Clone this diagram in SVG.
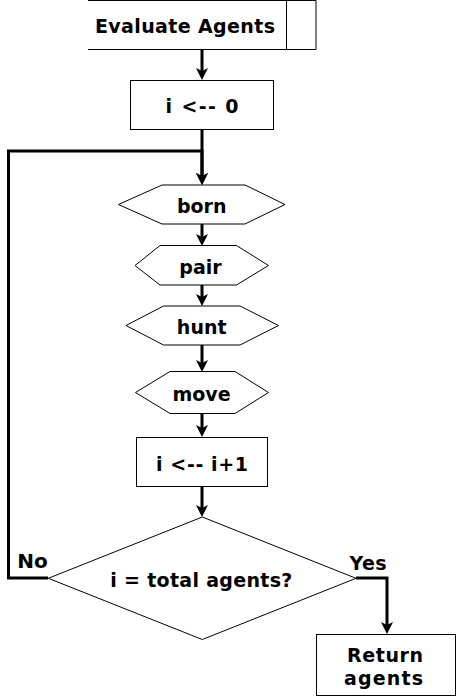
<svg xmlns="http://www.w3.org/2000/svg" width="457" height="697" viewBox="0 0 457 697">
<style>
.shape{fill:#ffffff;stroke:#000000;stroke-width:1}
.edge{fill:none;stroke:#000000;stroke-width:3}
.lbl{font-family:"DejaVu Sans","Verdana",sans-serif;font-weight:bold;font-size:19px;fill:#000000;text-anchor:middle}
</style>
<defs>
<marker id="arr" viewBox="0 0 12 12" refX="4" refY="6" markerWidth="12" markerHeight="12" markerUnits="userSpaceOnUse" orient="auto">
<path d="M0,0 L12,6 L0,12 L3,6 Z" fill="#000000"/>
</marker>
</defs>
<rect width="457" height="697" fill="#ffffff"/>
<g id="connectors">
<path class="edge" d="M202,49 V72" marker-end="url(#arr)"/>
<path class="edge" d="M202,129 V177" marker-end="url(#arr)"/>
<path class="edge" d="M202,224 V238" marker-end="url(#arr)"/>
<path class="edge" d="M202,285 V298" marker-end="url(#arr)"/>
<path class="edge" d="M202,345 V364" marker-end="url(#arr)"/>
<path class="edge" d="M202,413 V429" marker-end="url(#arr)"/>
<path class="edge" d="M202,487 V509" marker-end="url(#arr)"/>
<path class="edge" d="M48,578 H8.5 V151 H202 V177" marker-end="url(#arr)"/>
<path class="edge" d="M356,578 H387 V626" marker-end="url(#arr)"/>
<text class="lbl" x="32.5" y="567.5" style="font-size:20px">No</text>
<text class="lbl" x="368" y="570" textLength="37">Yes</text>
</g>
<g id="evaluate-agents">
<path class="shape" d="M88,0.5 H316 V49.5 H88 M286.5,0.5 V49.5" style="fill:#ffffff"/>
<text class="lbl" x="185" y="33" textLength="180">Evaluate Agents</text>
</g>
<g id="init">
<rect class="shape" x="130.5" y="80.5" width="143" height="49"/>
<text class="lbl" x="202" y="112.5" textLength="73">i &lt;-- 0</text>
</g>
<g id="born">
<polygon class="shape" points="118.5,204.5 162,185 245,185 285,204.5 245,224 162,224"/>
<text class="lbl" x="201.7" y="212.5">born</text>
</g>
<g id="pair">
<polygon class="shape" points="135,265.5 160,245.5 236.5,245.5 268.5,265.5 236.5,285 160,285"/>
<text class="lbl" x="200.5" y="273.5">pair</text>
</g>
<g id="hunt">
<polygon class="shape" points="126,325.5 163.5,306 240,306 278.5,325.5 240,345 163.5,345"/>
<text class="lbl" x="201.7" y="334.3">hunt</text>
</g>
<g id="move">
<polygon class="shape" points="135.5,392.5 170,371.5 235,371.5 268.5,392.5 235,413.5 170,413.5"/>
<text class="lbl" x="201.5" y="400.7">move</text>
</g>
<g id="increment">
<rect class="shape" x="136.5" y="437.5" width="131" height="49"/>
<text class="lbl" x="202" y="470.7" textLength="92">i &lt;-- i+1</text>
</g>
<g id="decision">
<polygon class="shape" points="202.3,517 356,578.3 202.3,639.5 48.3,578.3"/>
<text class="lbl" x="201.3" y="586.7" textLength="182">i = total agents?</text>
</g>
<g id="return-agents">
<rect class="shape" x="316.5" y="634.5" width="139" height="61"/>
<text class="lbl" x="385" y="661.7" textLength="76">Return</text>
<text class="lbl" x="383.5" y="685" textLength="79">agents</text>
</g>
</svg>
